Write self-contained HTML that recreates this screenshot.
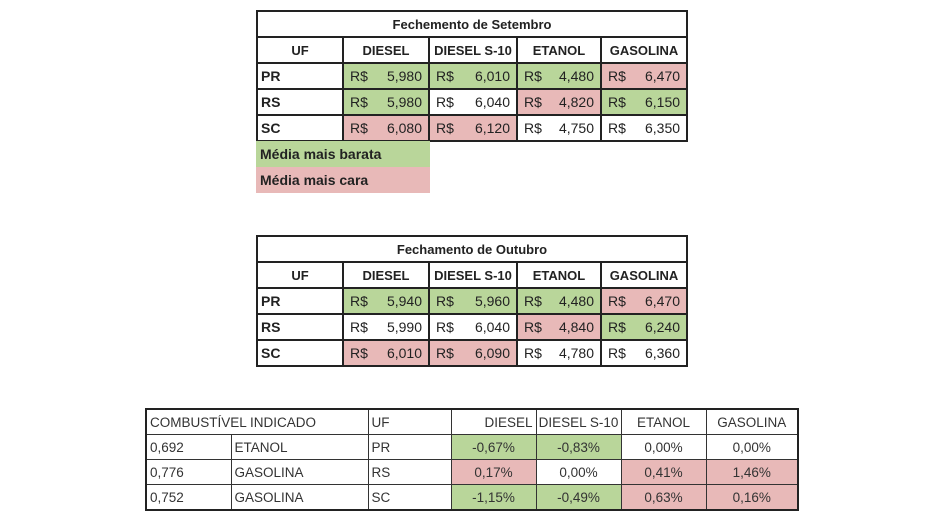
<!DOCTYPE html>
<html><head><meta charset="utf-8"><style>
body{margin:0;width:940px;height:530px;background:#fff;position:relative;overflow:hidden;font-family:"Liberation Sans",sans-serif;color:#222}
table{position:absolute;border-collapse:collapse;table-layout:fixed}
td{padding:0 3px;overflow:hidden;white-space:nowrap}
.t td{border:2px solid #222;height:24px;font-size:14px}
.t .h td{font-weight:bold;text-align:center;font-size:13px;padding:0 1px}
.t .uf{font-weight:bold;text-align:left}
.v span{float:left;padding-left:3px}.v b{float:right;font-weight:normal;padding-right:3px}
.g{background:#b9d69a}.p{background:#e8b9b8}
.c td{border:1px solid #333;height:24px;font-size:13.5px;color:#333}
.c .n{text-align:center}
.leg{position:absolute;left:256px;width:174px;height:26px;font-weight:bold;font-size:14px;line-height:26px;padding-left:4px;box-sizing:border-box}
</style></head><body>

<table class="t" style="left:256px;top:10px;width:430px">
<colgroup><col style="width:86px"><col style="width:86px"><col style="width:88px"><col style="width:84px"><col style="width:86px"></colgroup>
<tr class="h"><td colspan="5">Fechemento de Setembro</td></tr>
<tr class="h"><td>UF</td><td>DIESEL</td><td>DIESEL S-10</td><td>ETANOL</td><td>GASOLINA</td></tr>
<tr><td class="uf">PR</td><td class="v g"><span>R$</span><b>5,980</b></td><td class="v g"><span>R$</span><b>6,010</b></td><td class="v g"><span>R$</span><b>4,480</b></td><td class="v p"><span>R$</span><b>6,470</b></td></tr>
<tr><td class="uf">RS</td><td class="v g"><span>R$</span><b>5,980</b></td><td class="v"><span>R$</span><b>6,040</b></td><td class="v p"><span>R$</span><b>4,820</b></td><td class="v g"><span>R$</span><b>6,150</b></td></tr>
<tr><td class="uf">SC</td><td class="v p"><span>R$</span><b>6,080</b></td><td class="v p"><span>R$</span><b>6,120</b></td><td class="v"><span>R$</span><b>4,750</b></td><td class="v"><span>R$</span><b>6,350</b></td></tr>
</table>
<div class="leg g" style="top:141px">Média mais barata</div>
<div class="leg p" style="top:167px">Média mais cara</div>

<table class="t" style="left:256px;top:235px;width:430px">
<colgroup><col style="width:86px"><col style="width:86px"><col style="width:88px"><col style="width:84px"><col style="width:86px"></colgroup>
<tr class="h"><td colspan="5">Fechamento de Outubro</td></tr>
<tr class="h"><td>UF</td><td>DIESEL</td><td>DIESEL S-10</td><td>ETANOL</td><td>GASOLINA</td></tr>
<tr><td class="uf">PR</td><td class="v g"><span>R$</span><b>5,940</b></td><td class="v g"><span>R$</span><b>5,960</b></td><td class="v g"><span>R$</span><b>4,480</b></td><td class="v p"><span>R$</span><b>6,470</b></td></tr>
<tr><td class="uf">RS</td><td class="v"><span>R$</span><b>5,990</b></td><td class="v"><span>R$</span><b>6,040</b></td><td class="v p"><span>R$</span><b>4,840</b></td><td class="v g"><span>R$</span><b>6,240</b></td></tr>
<tr><td class="uf">SC</td><td class="v p"><span>R$</span><b>6,010</b></td><td class="v p"><span>R$</span><b>6,090</b></td><td class="v"><span>R$</span><b>4,780</b></td><td class="v"><span>R$</span><b>6,360</b></td></tr>
</table>

<table class="c" style="left:145px;top:408px;width:652px;border:2px solid #222">
<colgroup><col style="width:85px"><col style="width:137px"><col style="width:83px"><col style="width:85px"><col style="width:85px"><col style="width:85px"><col style="width:92px"></colgroup>
<tr><td colspan="2">COMBUSTÍVEL INDICADO</td><td>UF</td><td style="text-align:right">DIESEL</td><td class="n" style="padding:0 1px">DIESEL S-10</td><td class="n">ETANOL</td><td class="n">GASOLINA</td></tr>
<tr><td>0,692</td><td>ETANOL</td><td>PR</td><td class="n g">-0,67%</td><td class="n g">-0,83%</td><td class="n">0,00%</td><td class="n">0,00%</td></tr>
<tr><td>0,776</td><td>GASOLINA</td><td>RS</td><td class="n p">0,17%</td><td class="n">0,00%</td><td class="n p">0,41%</td><td class="n p">1,46%</td></tr>
<tr><td>0,752</td><td>GASOLINA</td><td>SC</td><td class="n g">-1,15%</td><td class="n g">-0,49%</td><td class="n p">0,63%</td><td class="n p">0,16%</td></tr>
</table>
</body></html>
